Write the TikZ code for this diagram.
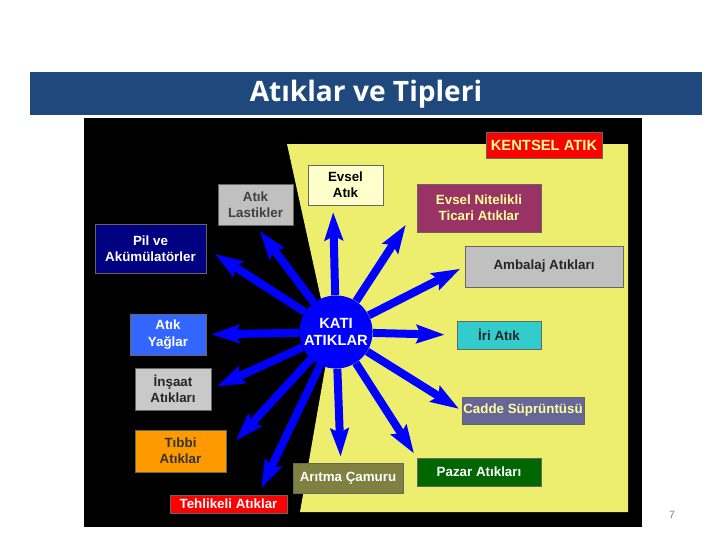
\documentclass[tikz,border=0pt]{standalone}
\usepackage{fontspec}
\setmainfont{Liberation Sans}
\newfontfamily\titlefont{Open Sans}
\usetikzlibrary{arrows.meta}
\definecolor{titleblue}{RGB}{31,73,125}
\definecolor{paleyellow}{RGB}{237,237,110}
\definecolor{spoke}{RGB}{0,0,255}
\definecolor{cream}{RGB}{255,255,204}
\definecolor{silver}{RGB}{192,192,192}
\definecolor{navy}{RGB}{0,0,128}
\definecolor{plum}{RGB}{153,51,102}
\definecolor{lightyel}{RGB}{255,255,153}
\definecolor{oilblue}{RGB}{51,102,255}
\definecolor{orange}{RGB}{255,153,0}
\definecolor{olive}{RGB}{128,128,64}
\definecolor{teal}{RGB}{51,204,204}
\definecolor{slate}{RGB}{102,102,153}
\definecolor{darkgreen}{RGB}{0,102,0}
\begin{document}
\begin{tikzpicture}
  [x=0.025cm,y=-0.025cm,every node/.style={font=\fontsize{9.5}{11.5}\selectfont\bfseries,align=center,inner sep=1pt}]
  \tikzstyle{box} = [draw=black!60,line width=0.4pt]
  \tikzstyle{arr} = [draw=spoke,line width=0.2cm,-{Stealth[length=0.7cm,width=0.45cm,inset=0.1cm]}]
  \useasboundingbox (0,0) rectangle (720,540);
  \fill[titleblue] (30,72) rectangle (702,115);
  \node[text=white,font=\titlefont\fontsize{20}{24}\selectfont\bfseries] (title) at (366,94) {Atıklar ve Tipleri};
  \fill[black] (84,118) rectangle (642,527);
  \fill[paleyellow] (287,144) -- (628,144) -- (628,512) -- (300,512) -- (330,340) -- cycle;
  \node[box,fill=red,text=lightyel,font=\fontsize{10.5}{12}\selectfont\bfseries,minimum width=2.9cm,minimum height=0.65cm] (kentsel) at (544,145) {KENTSEL ATIK};
  \node[box,fill=cream,text=black,minimum width=1.875cm,minimum height=1cm] (evsel) at (345.5,185) {Evsel\\Atık};
  \node[box,fill=silver,text=black!75,minimum width=1.875cm,minimum height=1.025cm] (lastik) at (255.5,204.5) {Atık\\Lastikler};
  \node[box,fill=navy,text=white,minimum width=2.775cm,minimum height=1.225cm] (pil) at (150.5,248.5) {Pil ve\\Akümülatörler};
  \node[box,fill=plum,text=lightyel,minimum width=3.1cm,minimum height=1.2cm] (nitelik) at (479,208) {Evsel Nitelikli\\Ticari Atıklar};
  \node[box,fill=silver,text=black!85,minimum width=3.95cm,minimum height=1.025cm] (ambalaj) at (544,266.5) {Ambalaj Atıkları};
  \node[box,fill=oilblue,text=white,minimum width=1.9cm,minimum height=1.025cm] (yag) at (168,334.5) {Atık\\Yağlar};
  \node[box,fill=silver!85!white,text=black!85,minimum width=1.9cm,minimum height=1.05cm] (insaat) at (173,389) {İnşaat\\Atıkları};
  \node[box,fill=orange,text=black!80,minimum width=2.275cm,minimum height=1.05cm] (tibbi) at (180.5,451) {Tıbbi\\Atıklar};
  \node[box,fill=red,text=white,minimum width=2.925cm,minimum height=0.45cm] (tehlike) at (228.5,504) {Tehlikeli Atıklar};
  \node[box,fill=olive,text=white,minimum width=2.75cm,minimum height=0.75cm] (aritma) at (348,478) {Arıtma Çamuru};
  \node[box,fill=teal,text=black!85,minimum width=2.1cm,minimum height=0.7cm] (iri) at (499,335) {İri Atık};
  \node[box,fill=slate,text=lightyel,minimum width=2.95cm,minimum height=0.675cm] (cadde) at (523,410.5) {Cadde Süprüntüsü};
  \node[box,fill=darkgreen,text=white,minimum width=3.1cm,minimum height=0.7cm] (pazar) at (479,472) {Pazar Atıkları};
  \node[circle,fill=spoke,text=white,font=\fontsize{10.5}{12.5}\selectfont\bfseries,minimum size=1.6cm] (kati) at (336,332) {KATI\\ATIKLAR};
  \coordinate (evseltip) at (333,205);
  \coordinate (tehliketip) at ([xshift=0.74cm]tehlike.north);
  \coordinate (aritmatip) at ([xshift=-0.18cm]aritma.north);
\foreach \dest/\gap in {evseltip/7,lastik.south/7,pil.east/10,nitelik.west/20,ambalaj.west/5,yag.east/5,insaat.east/6,tibbi.east/14,tehliketip/7,aritmatip/6,iri.west/12,cadde.west/3,pazar.north west/5}
   \draw[arr,shorten >=\gap*0.025cm] (kati) -- (\dest);
  \node[text=black!50,font=\fontsize{7.5}{8}\selectfont] (page) at (672,515) {7};
\end{tikzpicture}
\end{document}
